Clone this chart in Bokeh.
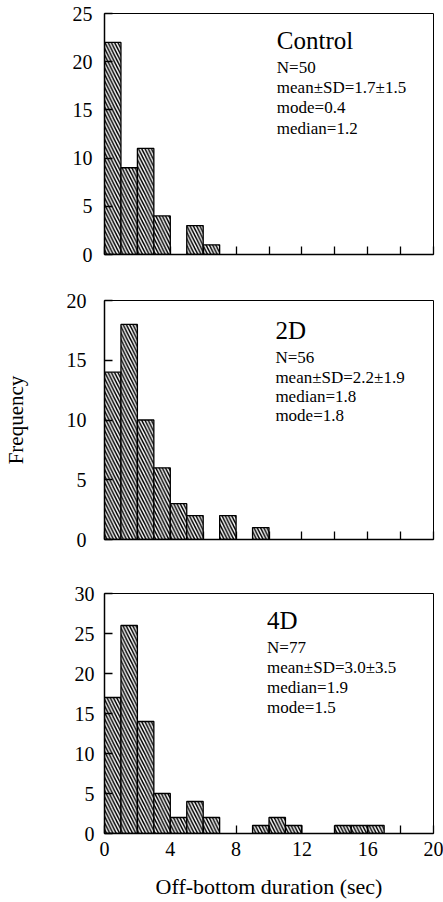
from bokeh.plotting import figure
from bokeh.layouts import column
from bokeh.models import FixedTicker, Range1d, Label, ColumnDataSource, CustomLabelingPolicy
from bokeh.embed import file_html
from bokeh.resources import INLINE

# ---------------- data ----------------
bin_width = 1
control_counts = [22, 9, 11, 4, 0, 3, 1]
d2_counts = [14, 18, 10, 6, 3, 2, 0, 2, 0, 1]
d4_counts = [17, 26, 14, 5, 2, 4, 2, 0, 0, 1, 2, 1, 0, 0, 1, 1, 1]

group_names = ["Control", "2D", "4D"]
control_stats = ["N=50", "mean\u00b1SD=1.7\u00b11.5", "mode=0.4", "median=1.2"]
d2_stats = ["N=56", "mean\u00b1SD=2.2\u00b11.9", "median=1.8", "mode=1.8"]
d4_stats = ["N=77", "mean\u00b1SD=3.0\u00b13.5", "median=1.9", "mode=1.5"]

y_max = [25, 20, 30]
x_max = 20
x_ticks_all = [0, 2, 4, 6, 8, 10, 12, 14, 16, 18, 20]
x_ticks_labeled = [0, 4, 8, 12, 16, 20]
x_ticks_minor = [2, 6, 10, 14, 18]
x_title = "Off-bottom duration (sec)"
y_title = "Frequency"

FONT = "Liberation Serif"
W = 443

# layout geometry (page coordinates; the Bokeh page template has no body margin)
geoms = [
    dict(top=0, h=278, bt=13, bb=24, bl=101, br=6, ls=12),
    dict(top=278, h=282, bt=22, bb=21, bl=99, br=9, ls=18),
    dict(top=560, h=342, bt=33, bb=69, bl=95, br=10, ls=10),
]
# text anchor positions in page px: (x, title_y, [stat ys])
text_pos = [
    (277, 40, [67, 87, 107, 128]),
    (273, 330, [357, 377, 396, 415]),
    (262, 620, [647, 667, 687, 707]),
]

hide_labels = CustomLabelingPolicy(code="""
    for (let i = 0; i < indices.size; i++) { indices.unset(i) }
    return indices
""")


def make_panel(i, counts, name, stats):
    g = geoms[i]
    p = figure(width=W, height=g["h"], output_backend="svg", toolbar_location=None,
               x_range=Range1d(0, x_max), y_range=Range1d(0, y_max[i]),
               min_border_top=g["bt"], min_border_bottom=g["bb"],
               min_border_left=g["bl"], min_border_right=g["br"])
    p.background_fill_color = "white"
    p.border_fill_color = "white"
    p.outline_line_color = "black"
    p.outline_line_width = 1
    p.grid.visible = False

    lefts = [k * bin_width for k, c in enumerate(counts) if c > 0]
    rights = [k * bin_width + bin_width for k, c in enumerate(counts) if c > 0]
    tops = [c for c in counts if c > 0]
    src = ColumnDataSource(dict(left=lefts, right=rights, top=tops, bottom=[0] * len(tops)))
    p.quad(left="left", right="right", top="top", bottom="bottom", source=src,
           fill_color="white", line_color="black", line_width=1.3,
           hatch_pattern="\\", hatch_color="black", hatch_weight=1.5, hatch_scale=6.5)

    # y axis
    ya = p.yaxis[0]
    ya.ticker = FixedTicker(ticks=list(range(0, y_max[i] + 1, 5)))
    ya.major_tick_in = 8
    ya.major_tick_out = 0
    ya.minor_tick_in = 0
    ya.minor_tick_out = 0
    ya.axis_line_color = "black"
    ya.axis_line_width = 1.5
    ya.major_tick_line_width = 1.3
    ya.major_label_text_font = FONT
    ya.major_label_text_font_size = "20px"
    ya.major_label_text_color = "black"
    ya.major_label_standoff = g["ls"]
    if i == 1:
        ya.axis_label = y_title
        ya.axis_label_text_font = FONT
        ya.axis_label_text_font_size = "21px"
        ya.axis_label_text_font_style = "normal"
        ya.axis_label_text_color = "black"
        ya.axis_label_standoff = 36

    # x axis
    xa = p.xaxis[0]
    xa.axis_line_color = "black"
    xa.axis_line_width = 1.5
    xa.major_tick_in = 8
    xa.major_tick_out = 0
    xa.minor_tick_in = 8
    xa.minor_tick_out = 0
    xa.major_tick_line_width = 1.3
    xa.minor_tick_line_width = 1.3
    xa.minor_tick_line_color = "black"
    if i == 2:
        xa.ticker = FixedTicker(ticks=x_ticks_labeled, minor_ticks=x_ticks_minor)
        xa.major_label_text_font = FONT
        xa.major_label_text_font_size = "20px"
        xa.major_label_text_color = "black"
        xa.major_label_standoff = 8
        xa.axis_label = x_title
        xa.axis_label_text_font = FONT
        xa.axis_label_text_font_size = "22px"
        xa.axis_label_text_font_style = "normal"
        xa.axis_label_text_color = "black"
        xa.axis_label_standoff = 15
    else:
        xa.ticker = FixedTicker(ticks=x_ticks_all)
        xa.minor_tick_in = 0
        xa.major_label_policy = hide_labels
        xa.major_label_text_font_size = "2px"
        xa.major_label_standoff = 0

    # text annotations (convert page px to data units using the frame geometry)
    f_top = g["top"] + g["bt"]
    f_bot = g["top"] + g["h"] - g["bb"]
    f_left = g["bl"]
    f_right = W - g["br"]

    def dx(px):
        return (px - f_left) / (f_right - f_left) * x_max

    def dy(py):
        return (f_bot - py) / (f_bot - f_top) * y_max[i]

    tx, ty, sys_ = text_pos[i]
    p.add_layout(Label(x=dx(tx), y=dy(ty), text=name, text_font=FONT,
                       text_font_size="25px", text_baseline="middle", text_align="left",
                       text_color="black"))
    for s, sy in zip(stats, sys_):
        p.add_layout(Label(x=dx(tx), y=dy(sy), text=s, text_font=FONT,
                           text_font_size="17px", text_baseline="middle", text_align="left",
                           text_color="black"))
    return p


p1 = make_panel(0, control_counts, group_names[0], control_stats)
p2 = make_panel(1, d2_counts, group_names[1], d2_stats)
p3 = make_panel(2, d4_counts, group_names[2], d4_stats)

layout = column(p1, p2, p3, spacing=0)
open("out.html", "w").write(file_html(layout, INLINE))
